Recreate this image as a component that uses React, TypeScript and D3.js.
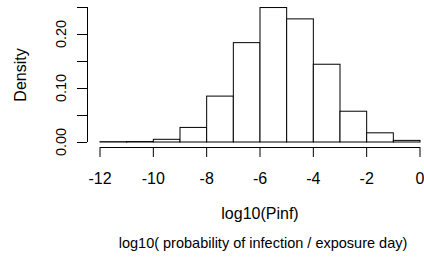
import React from 'react';
import * as d3 from 'd3';

// histogram of log10(Pinf), bin edges and densities
const binStarts = [-12, -11, -10, -9, -8, -7, -6, -5, -4, -3, -2, -1];
const densities = [0.0006, 0.0008, 0.005, 0.027, 0.085, 0.184, 0.249, 0.228, 0.144, 0.057, 0.017, 0.003];
const xTicks = [-12, -10, -8, -6, -4, -2, 0];
const yTicks = [0, 0.05, 0.1, 0.15, 0.2, 0.25];
const yLabels = ['0.00', '', '0.10', '', '0.20', ''];

const W = 424;
const H = 260;
const font = 'Liberation Sans, Arial, Helvetica, sans-serif';

export default function App() {
  const x = d3.scaleLinear().domain([-12, 0]).range([100, 420]);
  const y = d3.scaleLinear().domain([0, 0.25]).range([142, 7]);
  const axisY = 147;
  const axisX = 87;

  return (
    <svg
      width={W}
      height={H}
      style={{ position: 'absolute', left: 0, top: 0, background: '#fff' }}
      fontFamily={font}
    >
      {binStarts.map((b, i) => (
        <rect
          key={b}
          x={x(b)}
          y={y(densities[i])}
          width={x(b + 1) - x(b)}
          height={y(0) - y(densities[i])}
          fill='white'
          stroke='black'
          strokeWidth={1}
        />
      ))}

      {/* x axis */}
      <line x1={x(-12)} x2={x(0)} y1={axisY + 0.5} y2={axisY + 0.5} stroke='black' />
      {xTicks.map((t) => (
        <g key={t}>
          <line x1={x(t)} x2={x(t)} y1={axisY} y2={axisY + 10} stroke='black' />
          <text x={x(t)} y={184} fontSize={16} textAnchor='middle'>
            {t}
          </text>
        </g>
      ))}

      {/* y axis */}
      <line x1={axisX + 0.5} x2={axisX + 0.5} y1={y(0)} y2={y(0.25)} stroke='black' />
      {yTicks.map((t, i) => (
        <g key={t}>
          <line x1={axisX - 10} x2={axisX} y1={Math.round(y(t)) + 0.5} y2={Math.round(y(t)) + 0.5} stroke='black' />
          {yLabels[i] && (
            <text
              transform={`translate(66, ${y(t)}) rotate(-90)`}
              fontSize={14.5}
              textAnchor='middle'
            >
              {yLabels[i]}
            </text>
          )}
        </g>
      ))}

      <text transform='translate(26, 75) rotate(-90)' fontSize={16} textAnchor='middle'>
        Density
      </text>
      <text x={260} y={219} fontSize={16} textAnchor='middle'>
        log10(Pinf)
      </text>
      <text x={263} y={248} fontSize={14.5} textAnchor='middle'>
        log10( probability of infection / exposure day)
      </text>
    </svg>
  );
}
